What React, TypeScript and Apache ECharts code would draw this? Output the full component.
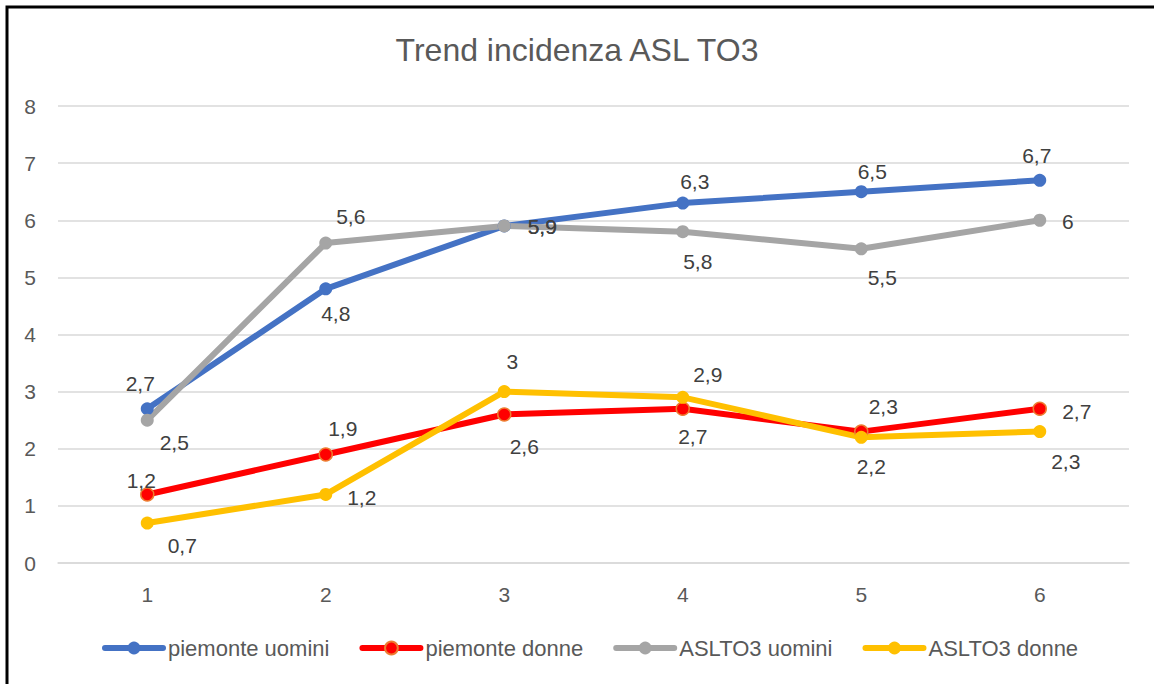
import React, { useEffect, useRef } from "react";
import * as echarts from "echarts";

const categories = ["1", "2", "3", "4", "5", "6"];
const piemonteUomini = [2.7, 4.8, 5.9, 6.3, 6.5, 6.7];
const piemonteDonne = [1.2, 1.9, 2.6, 2.7, 2.3, 2.7];
const asltoUomini = [2.5, 5.6, 5.9, 5.8, 5.5, 6];
const asltoDonne = [0.7, 1.2, 3, 2.9, 2.2, 2.3];
const seriesNames = ["piemonte uomini", "piemonte donne", "ASLTO3 uomini", "ASLTO3 donne"];

// label offsets (pixel placement of data labels relative to their points)
const offBlue = [[-7, -25], [10, 25], [38, 1], [12, -22], [11, -20], [-3, -25]];
const offRed = [[-6, -14], [17, -26], [20, 32], [10, 28], [22, -25], [37, 3]];
const offGray = [[27, 22], [25, -27], [38, 1], [15, 30], [21, 29], [28, 1]];
const offYellow = [[35, 22], [36, 3], [8, -30], [25, -23], [10, 29], [26, 30]];

const FONT = "'Liberation Sans', Arial, sans-serif";

function fmt(v: number) {
  return String(v).replace(".", ",");
}

function mkSeries(name: string, values: number[], offs: number[][], color: string, border?: string) {
  return {
    name,
    type: "line",
    data: values.map((v, i) => ({
      value: v,
      label: { offset: offs[i] },
    })),
    symbol: "circle",
    symbolSize: 13,
    lineStyle: { color, width: 6, cap: "round", join: "round" },
    itemStyle: { color, borderColor: border || color, borderWidth: border ? 1.5 : 0 },
    label: {
      show: true,
      position: "inside",
      align: "center",
      verticalAlign: "middle",
      color: "#404040",
      fontSize: 21,
      fontFamily: FONT,
      formatter: (p: any) => fmt(p.value),
    },
    emphasis: { disabled: true },
  };
}

export default function App() {
  const ref = useRef<HTMLDivElement>(null);
  useEffect(() => {
    document.body.style.margin = "0";
    const chart = echarts.init(ref.current!, undefined, { renderer: "svg" });
    chart.setOption({
      animation: false,
      backgroundColor: "#ffffff",
      title: {
        text: "Trend incidenza ASL TO3",
        left: "center",
        top: 34,
        padding: 0,
        textStyle: { fontSize: 32, fontWeight: "normal", color: "#595959", fontFamily: FONT },
      },
      graphic: [
        {
          type: "rect",
          shape: { x: 7, y: 7, width: 1300, height: 1300 },
          style: { fill: "none", stroke: "#000000", lineWidth: 3 },
          silent: true,
        },
      ],
      legend: {
        data: seriesNames,
        left: 97,
        top: 632,
        itemWidth: 58,
        itemHeight: 16,
        itemGap: 30,
        lineStyle: { width: 6, cap: "round" },
        textStyle: { fontSize: 22, color: "#595959", fontFamily: FONT },
      },
      grid: { left: 58, right: 25, top: 106, bottom: 121, containLabel: false },
      xAxis: {
        type: "category",
        data: categories,
        boundaryGap: true,
        axisLine: { show: true, lineStyle: { color: "#D9D9D9", width: 1.5 } },
        axisTick: { show: false },
        axisLabel: { color: "#595959", fontSize: 21, fontFamily: FONT, margin: 21 },
      },
      yAxis: {
        type: "value",
        min: 0,
        max: 8,
        interval: 1,
        axisLine: { show: false },
        axisTick: { show: false },
        splitLine: { lineStyle: { color: "#D9D9D9", width: 1.5 } },
        axisLabel: { color: "#595959", fontSize: 21, fontFamily: FONT, margin: 22 },
      },
      series: [
        mkSeries(seriesNames[0], piemonteUomini, offBlue, "#4472C4"),
        mkSeries(seriesNames[1], piemonteDonne, offRed, "#FF0000", "#ED7D31"),
        mkSeries(seriesNames[2], asltoUomini, offGray, "#A5A5A5"),
        mkSeries(seriesNames[3], asltoDonne, offYellow, "#FFC000"),
      ],
    });
    return () => chart.dispose();
  }, []);
  return (
    <div
      ref={ref}
      style={{ position: "fixed", left: 0, top: 0, width: 1154, height: 684 }}
    />
  );
}
